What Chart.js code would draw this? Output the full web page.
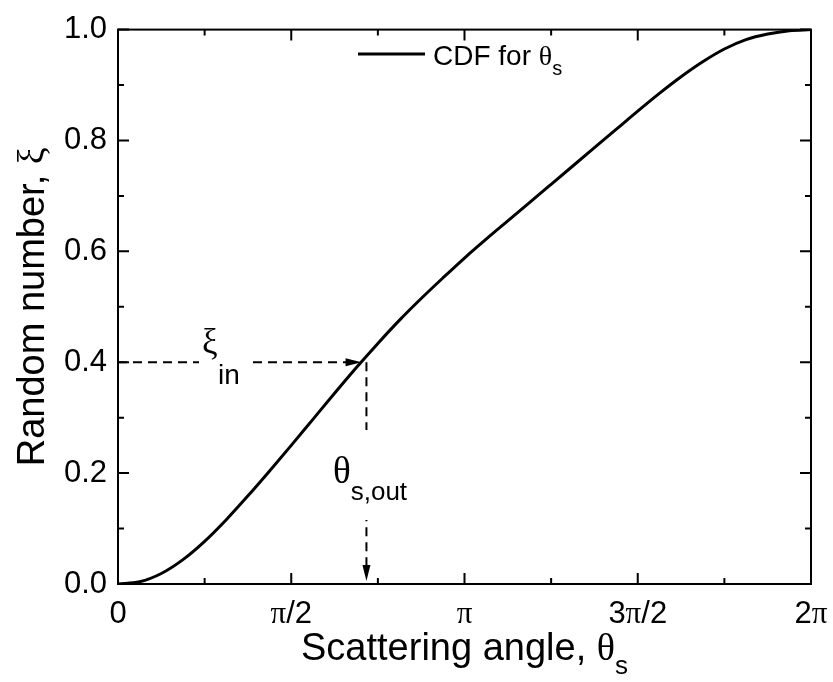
<!DOCTYPE html>
<html>
<head>
<meta charset="utf-8">
<script src="https://cdn.jsdelivr.net/npm/chart.js@4.4.1/dist/chart.umd.min.js"></script>
<style>
  body { margin: 0; background: #fff; }
  canvas { display: block; }
</style>
</head>
<body>
<canvas id="cdfChart" width="833" height="682"></canvas>
<script>
// Scattering angle in units of pi, and the cumulative distribution at each angle
const thetaPi = [0, 0.0625, 0.125, 0.1875, 0.25, 0.3125, 0.375, 0.4375, 0.5,
  0.5625, 0.625, 0.6875, 0.75, 0.8125, 0.875, 0.9375, 1,
  1.0625, 1.125, 1.1875, 1.25, 1.3125, 1.375, 1.4375, 1.5,
  1.5625, 1.625, 1.6875, 1.75, 1.8125, 1.875, 1.9375, 2];
const cdfValues = [0, 0.004, 0.019, 0.044, 0.077, 0.116, 0.159, 0.204, 0.250,
  0.297, 0.344, 0.390, 0.434, 0.476, 0.515, 0.552, 0.588,
  0.622, 0.655, 0.688, 0.721, 0.754, 0.787, 0.820, 0.853,
  0.885, 0.915, 0.942, 0.965, 0.982, 0.992, 0.998, 1.0];

// Worked example: random number in, angle out
const xiIn = 0.4;
const arrowEndTheta = 0.703;
const thetaOut = 0.717;

// Tick positions and labels
const xMajorTicks = [0, 0.5, 1, 1.5, 2];
const xTickLabels = ["0", "π/2", "π", "3π/2", "2π"];
const xMinorTicks = [0.25, 0.75, 1.25, 1.75];
const yMajorTicks = [0, 0.2, 0.4, 0.6, 0.8, 1.0];
const yMinorTicks = [0.1, 0.3, 0.5, 0.7, 0.9];

const SANS = '"Liberation Sans", Arial, sans-serif';
const SERIF = '"Liberation Serif", "Times New Roman", serif';

// draw a run of text pieces with their own fonts and baseline shifts
function drawRich(ctx, parts, x, y, align) {
  let total = 0;
  parts.forEach((p) => {
    ctx.font = p.font;
    p.w = ctx.measureText(p.t).width;
    total += p.w;
  });
  let cx = align === "center" ? x - total / 2 : align === "right" ? x - total : x;
  ctx.textAlign = "left";
  ctx.textBaseline = "alphabetic";
  parts.forEach((p) => {
    ctx.font = p.font;
    ctx.fillText(p.t, cx, y + (p.dy || 0));
    cx += p.w;
  });
}

// π is set in serif, everything else in sans
function tickParts(label) {
  return label.split(/(π)/).filter(Boolean).map((s) =>
    s === "π" ? { t: s, font: "31px " + SERIF } : { t: s, font: "31px " + SANS }
  );
}

const decorations = {
  id: "decorations",
  afterDatasetsDraw(chart) {
    const { ctx, chartArea: a, scales: { x, y } } = chart;
    ctx.save();
    ctx.fillStyle = "#000";
    ctx.strokeStyle = "#000";

    // white patches under the annotation labels
    const yIn = y.getPixelForValue(xiIn);
    const xOut = x.getPixelForValue(thetaOut);
    ctx.fillStyle = "#fff";
    ctx.fillRect(199, yIn - 10, 54, 20);
    ctx.fillRect(xOut - 6, 430, 12, 90);
    ctx.fillStyle = "#000";

    // arrow heads
    const tipX = x.getPixelForValue(arrowEndTheta);
    ctx.beginPath();
    ctx.moveTo(tipX, yIn);
    ctx.lineTo(tipX - 16, yIn - 4);
    ctx.lineTo(tipX - 16, yIn + 4);
    ctx.closePath();
    ctx.fill();
    const tipY = y.getPixelForValue(0) - 3;
    ctx.beginPath();
    ctx.moveTo(xOut, tipY);
    ctx.lineTo(xOut - 4, tipY - 16);
    ctx.lineTo(xOut + 4, tipY - 16);
    ctx.closePath();
    ctx.fill();

    // annotation labels
    drawRich(ctx, [{ t: "ξ", font: "35px " + SERIF }], 202, yIn - 9, "left");
    drawRich(ctx, [{ t: "in", font: "28px " + SANS }], 218, yIn + 22, "left");
    drawRich(ctx, [
      { t: "θ", font: "37px " + SERIF },
      { t: "s,out", font: "26px " + SANS, dy: 17 }
    ], 333, 483, "left");

    // frame
    ctx.lineWidth = 2;
    ctx.strokeRect(a.left, a.top, a.right - a.left, a.bottom - a.top);

    // inward ticks on all four sides
    ctx.beginPath();
    const xt = (v, len) => {
      const px = x.getPixelForValue(v);
      ctx.moveTo(px, a.bottom); ctx.lineTo(px, a.bottom - len);
      ctx.moveTo(px, a.top); ctx.lineTo(px, a.top + len);
    };
    const yt = (v, len) => {
      const py = y.getPixelForValue(v);
      ctx.moveTo(a.left, py); ctx.lineTo(a.left + len, py);
      ctx.moveTo(a.right, py); ctx.lineTo(a.right - len, py);
    };
    xMajorTicks.forEach((v) => xt(v, 11));
    xMinorTicks.forEach((v) => xt(v, 6));
    yMajorTicks.forEach((v) => yt(v, 11));
    yMinorTicks.forEach((v) => yt(v, 6));
    ctx.stroke();

    // x tick labels
    xMajorTicks.forEach((v, i) => {
      drawRich(ctx, tickParts(xTickLabels[i]), x.getPixelForValue(v), a.bottom + 39, "center");
    });

    // axis titles
    const midX = (a.left + a.right) / 2;
    drawRich(ctx, [
      { t: "Scattering angle, ", font: "38px " + SANS },
      { t: "θ", font: "38px " + SERIF },
      { t: "s", font: "26px " + SANS, dy: 14 }
    ], midX, 660, "center");

    ctx.save();
    ctx.translate(44, (a.top + a.bottom) / 2);
    ctx.rotate(-Math.PI / 2);
    drawRich(ctx, [
      { t: "Random number, ", font: "38px " + SANS },
      { t: "ξ", font: "38px " + SERIF }
    ], 0, 0, "center");
    ctx.restore();

    // legend
    ctx.lineWidth = 3;
    ctx.beginPath();
    ctx.moveTo(358, 54);
    ctx.lineTo(425, 54);
    ctx.stroke();
    drawRich(ctx, [
      { t: "CDF for ", font: "28px " + SANS },
      { t: "θ", font: "28px " + SERIF },
      { t: "s", font: "20px " + SANS, dy: 10 }
    ], 433, 65, "left");

    ctx.restore();
  }
};

const curve = thetaPi.map((t, i) => ({ x: t, y: cdfValues[i] }));

new Chart(document.getElementById("cdfChart"), {
  type: "scatter",
  data: {
    datasets: [
      {
        label: "CDF",
        data: curve,
        showLine: true,
        borderColor: "#000",
        borderWidth: 3,
        pointRadius: 0,
        cubicInterpolationMode: "monotone"
      },
      {
        data: [{ x: 0, y: xiIn }, { x: arrowEndTheta - 0.04, y: xiIn }],
        showLine: true,
        borderColor: "#000",
        borderWidth: 2,
        borderDash: [9, 6],
        pointRadius: 0
      },
      {
        data: [{ x: thetaOut, y: xiIn }, { x: thetaOut, y: 0.03 }],
        showLine: true,
        borderColor: "#000",
        borderWidth: 2,
        borderDash: [9, 6],
        pointRadius: 0
      }
    ]
  },
  options: {
    responsive: false,
    animation: false,
    layout: { padding: { top: 24, right: 22, bottom: 98, left: 0 } },
    plugins: { legend: { display: false }, tooltip: { enabled: false } },
    scales: {
      x: { type: "linear", min: 0, max: 2, display: false },
      y: {
        type: "linear",
        min: 0,
        max: 1,
        grid: { display: false, drawTicks: false },
        border: { display: false },
        ticks: {
          stepSize: 0.2,
          padding: 11,
          color: "#000",
          font: { family: SANS, size: 31 },
          callback: (v) => v.toFixed(1)
        },
        afterFit: (scale) => { scale.width = 118; }
      }
    }
  },
  plugins: [decorations]
});
</script>
</body>
</html>
